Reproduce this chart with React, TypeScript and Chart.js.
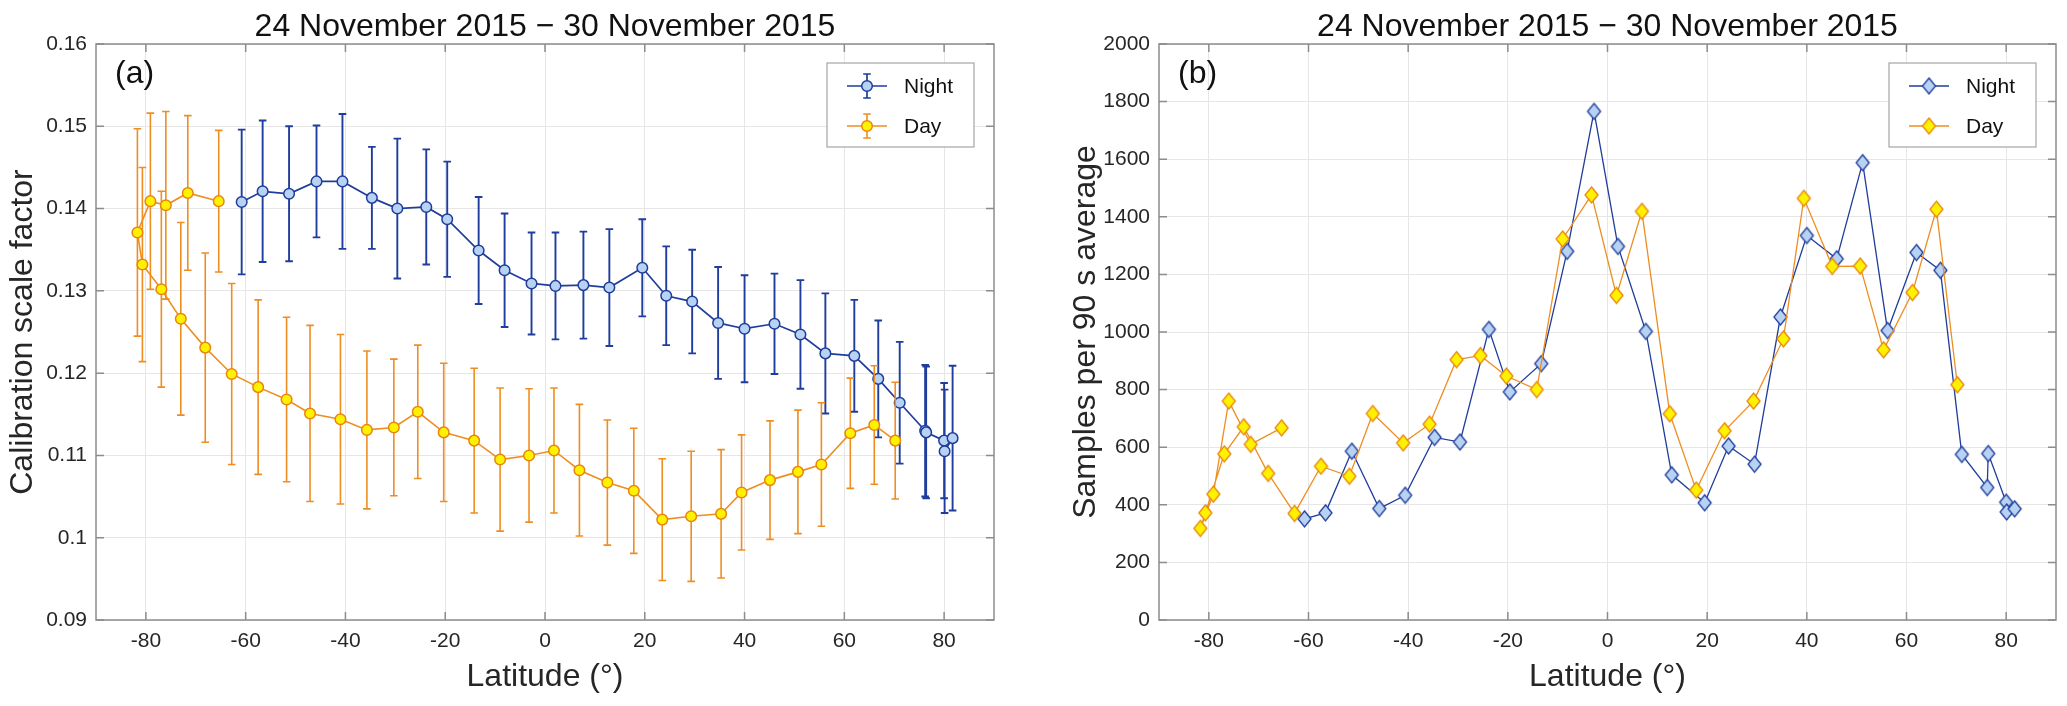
import React, { useEffect, useRef } from 'react';
import { Chart, registerables } from 'chart.js';
Chart.register(...registerables);

// ---------- data ----------
const nightLat = [-60.8, -56.6, -51.3, -45.8, -40.6, -34.7, -29.6, -23.8, -19.6, -13.3, -8.1, -2.7, 2.1, 7.7, 12.9, 19.5, 24.3, 29.5, 34.7, 40.0, 46.0, 51.2, 56.2, 62.0, 66.8, 71.1, 76.2, 76.4, 80.0, 80.1, 81.7];
const nightFactor = [0.1408, 0.1421, 0.1418, 0.1433, 0.1433, 0.1413, 0.1400, 0.1402, 0.1387, 0.1349, 0.1325, 0.1309, 0.1306, 0.1307, 0.1304, 0.1328, 0.1294, 0.1287, 0.1261, 0.1254, 0.1260, 0.1247, 0.1224, 0.1221, 0.1193, 0.1164, 0.1130, 0.1128, 0.1118, 0.1105, 0.1121];
const nightFactorErr = [0.0088, 0.0086, 0.0082, 0.0068, 0.0082, 0.0062, 0.0085, 0.0070, 0.0070, 0.0065, 0.0069, 0.0062, 0.0065, 0.0065, 0.0071, 0.0059, 0.0060, 0.0063, 0.0068, 0.0065, 0.0061, 0.0066, 0.0073, 0.0068, 0.0071, 0.0074, 0.0080, 0.0080, 0.0070, 0.0075, 0.0088];
const nightSamples = [351, 372, 586, 387, 433, 634, 618, 1009, 792, 890, 1280, 1766, 1297, 1002, 504, 407, 604, 541, 1052, 1335, 1254, 1588, 1005, 1276, 1214, 575, 460, 578, 409, 375, 386];

const dayLat = [-65.4, -71.6, -76.0, -79.1, -81.7, -80.7, -76.9, -73.0, -68.1, -62.8, -57.5, -51.8, -47.1, -41.0, -35.7, -30.3, -25.5, -20.3, -14.2, -9.0, -3.2, 1.8, 6.9, 12.5, 17.8, 23.5, 29.3, 35.3, 39.4, 45.1, 50.7, 55.4, 61.2, 66.0, 70.2];
const dayFactor = [0.1409, 0.1419, 0.1404, 0.1409, 0.1371, 0.1332, 0.1302, 0.1266, 0.1231, 0.1199, 0.1183, 0.1168, 0.1151, 0.1144, 0.1131, 0.1134, 0.1153, 0.1128, 0.1118, 0.1095, 0.1100, 0.1106, 0.1082, 0.1067, 0.1057, 0.1022, 0.1026, 0.1029, 0.1055, 0.1070, 0.1080, 0.1089, 0.1127, 0.1137, 0.1118];
const dayFactorErr = [0.0086, 0.0094, 0.0114, 0.0107, 0.0126, 0.0118, 0.0119, 0.0117, 0.0115, 0.0110, 0.0106, 0.0100, 0.0107, 0.0103, 0.0096, 0.0083, 0.0081, 0.0084, 0.0088, 0.0087, 0.0081, 0.0076, 0.0080, 0.0076, 0.0076, 0.0074, 0.0079, 0.0078, 0.0070, 0.0072, 0.0075, 0.0075, 0.0067, 0.0072, 0.0071];
const daySamples = [667, 610, 760, 437, 318, 372, 577, 671, 509, 370, 534, 499, 717, 615, 680, 904, 918, 847, 800, 1323, 1476, 1127, 1419, 716, 451, 657, 760, 976, 1464, 1228, 1229, 938, 1137, 1426, 817];

const latTicks = [-80, -60, -40, -20, 0, 20, 40, 60, 80];
const latTickLabels = ['-80', '-60', '-40', '-20', '0', '20', '40', '60', '80'];
const factorTicks = [0.09, 0.10, 0.11, 0.12, 0.13, 0.14, 0.15, 0.16];
const factorTickLabels = ['0.09', '0.1', '0.11', '0.12', '0.13', '0.14', '0.15', '0.16'];
const sampleTicks = [0, 200, 400, 600, 800, 1000, 1200, 1400, 1600, 1800, 2000];
const sampleTickLabels = ['0', '200', '400', '600', '800', '1000', '1200', '1400', '1600', '1800', '2000'];
const seriesNames = ['Night', 'Day'];
const titleText = '24 November 2015 \u2212 30 November 2015';
const xTitle = 'Latitude (\u00B0)';
const yTitleA = 'Calibration scale factor';
const yTitleB = 'Samples per 90 s average';

// ---------- styles ----------
const FONT = "'Liberation Sans', Arial, Helvetica, sans-serif";
const NIGHT_LINE = '#1f3d9c';
const NIGHT_FACE = '#b7d2f2';
const DAY_LINE = '#ee8e22';
const DAY_EDGE = '#e8860c';
const DAY_FACE = '#fff200';
const AXIS_COLOR = '#8c8c8c';
const GRID_COLOR = '#e6e6e6';
const TEXT_COLOR = '#262626';

function makeDiamond(fill: string, stroke: string, w: number, h: number, lw: number) {
  const c = document.createElement('canvas');
  const pad = Math.ceil(lw) + 1;
  c.width = w + pad * 2;
  c.height = h + pad * 2;
  const g = c.getContext('2d')!;
  const cx = c.width / 2, cy = c.height / 2;
  g.beginPath();
  g.moveTo(cx, cy - h / 2);
  g.lineTo(cx + w / 2, cy);
  g.lineTo(cx, cy + h / 2);
  g.lineTo(cx - w / 2, cy);
  g.closePath();
  g.fillStyle = fill;
  g.fill();
  g.lineWidth = lw;
  g.strokeStyle = stroke;
  g.stroke();
  return c;
}

type LegendEntry = {
  label: string;
  line: string;
  lineWidth: number;
  errorbar: boolean;
  drawMarker: (ctx: CanvasRenderingContext2D, x: number, y: number) => void;
};

function panelPlugin(panelLabel: string, legend: LegendEntry[]) {
  return {
    id: 'panelDeco',
    beforeDatasetDraw(chart: any, args: any) {
      const ds: any = chart.data.datasets[args.index];
      if (!ds.errors) return;
      const meta = chart.getDatasetMeta(args.index);
      const ys = chart.scales.y;
      const ctx: CanvasRenderingContext2D = chart.ctx;
      const cap = 3.8;
      ctx.save();
      ctx.strokeStyle = ds.errorColor || ds.borderColor;
      ctx.lineWidth = ds.errorWidth || 1.5;
      ctx.beginPath();
      meta.data.forEach((pt: any, i: number) => {
        const v = ds.data[i].y;
        const e = ds.errors[i];
        const x = pt.x;
        const y1 = ys.getPixelForValue(v + e);
        const y2 = ys.getPixelForValue(v - e);
        ctx.moveTo(x, y1); ctx.lineTo(x, y2);
        ctx.moveTo(x - cap, y1); ctx.lineTo(x + cap, y1);
        ctx.moveTo(x - cap, y2); ctx.lineTo(x + cap, y2);
      });
      ctx.stroke();
      ctx.restore();
    },
    afterDraw(chart: any) {
      const ctx: CanvasRenderingContext2D = chart.ctx;
      const a = chart.chartArea;
      const xs = chart.scales.x;
      const ys = chart.scales.y;
      ctx.save();
      // frame
      ctx.strokeStyle = AXIS_COLOR;
      ctx.lineWidth = 1.5;
      ctx.strokeRect(a.left, a.top, a.right - a.left, a.bottom - a.top);
      // inward ticks
      const tl = 8;
      ctx.beginPath();
      xs.ticks.forEach((t: any) => {
        const px = xs.getPixelForValue(t.value);
        ctx.moveTo(px, a.bottom); ctx.lineTo(px, a.bottom - tl);
        ctx.moveTo(px, a.top); ctx.lineTo(px, a.top + tl);
      });
      ys.ticks.forEach((t: any) => {
        const py = ys.getPixelForValue(t.value);
        ctx.moveTo(a.left, py); ctx.lineTo(a.left + tl, py);
        ctx.moveTo(a.right, py); ctx.lineTo(a.right - tl, py);
      });
      ctx.stroke();

      // title
      ctx.fillStyle = '#111';
      ctx.font = `32px ${FONT}`;
      ctx.textAlign = 'center';
      ctx.textBaseline = 'alphabetic';
      ctx.fillText(titleText, (a.left + a.right) / 2, 36);

      // panel label
      ctx.font = `32px ${FONT}`;
      ctx.textAlign = 'left';
      ctx.textBaseline = 'alphabetic';
      ctx.fillText(panelLabel, a.left + 19, a.top + 39);

      // legend
      const lw = 147, lh = 84;
      const lx = a.right - 20 - lw;
      const ly = a.top + 19;
      ctx.fillStyle = '#ffffff';
      ctx.fillRect(lx, ly, lw, lh);
      ctx.strokeStyle = '#a6a6a6';
      ctx.lineWidth = 1.2;
      ctx.strokeRect(lx, ly, lw, lh);
      legend.forEach((e, i) => {
        const cy = ly + 23 + i * 40;
        ctx.strokeStyle = e.line;
        ctx.lineWidth = e.lineWidth;
        ctx.beginPath();
        ctx.moveTo(lx + 20, cy); ctx.lineTo(lx + 60, cy);
        if (e.errorbar) {
          const mx = lx + 40;
          ctx.moveTo(mx, cy - 12); ctx.lineTo(mx, cy + 12);
          ctx.moveTo(mx - 3.8, cy - 12); ctx.lineTo(mx + 3.8, cy - 12);
          ctx.moveTo(mx - 3.8, cy + 12); ctx.lineTo(mx + 3.8, cy + 12);
        }
        ctx.stroke();
        e.drawMarker(ctx, lx + 40, cy);
        ctx.fillStyle = '#111';
        ctx.font = `21px ${FONT}`;
        ctx.textAlign = 'left';
        ctx.textBaseline = 'middle';
        ctx.fillText(e.label, lx + 77, cy + 1);
      });
      ctx.restore();
    },
  };
}

function axisOptions(yMin: number, yMax: number, yTicks: number[], yLabels: string[], yTitle: string) {
  return {
    x: {
      type: 'linear',
      min: -90,
      max: 90,
      afterBuildTicks: (s: any) => { s.ticks = latTicks.map((v) => ({ value: v })); },
      afterFit: (s: any) => { s.height = 86; },
      ticks: {
        callback: (_v: any, i: number) => latTickLabels[i],
        color: TEXT_COLOR,
        font: { family: FONT, size: 21 },
        padding: 9,
        maxRotation: 0,
        autoSkip: false,
      },
      grid: { color: GRID_COLOR, lineWidth: 1, drawTicks: false },
      border: { display: false },
      title: {
        display: true,
        text: xTitle,
        color: TEXT_COLOR,
        font: { family: FONT, size: 32 },
        padding: { top: 0, bottom: 10 },
      },
    },
    y: {
      type: 'linear',
      min: yMin,
      max: yMax,
      afterBuildTicks: (s: any) => { s.ticks = yTicks.map((v) => ({ value: v })); },
      afterFit: (s: any) => { s.width = 96; },
      ticks: {
        callback: (_v: any, i: number) => yLabels[i],
        color: TEXT_COLOR,
        font: { family: FONT, size: 21 },
        padding: 9,
        autoSkip: false,
      },
      grid: { color: GRID_COLOR, lineWidth: 1, drawTicks: false },
      border: { display: false },
      title: {
        display: true,
        text: yTitle,
        color: TEXT_COLOR,
        font: { family: FONT, size: 32 },
        padding: { top: 4, bottom: 0 },
      },
    },
  };
}

function drawCircle(face: string, edge: string) {
  return (ctx: CanvasRenderingContext2D, x: number, y: number) => {
    ctx.beginPath();
    ctx.arc(x, y, 5.3, 0, Math.PI * 2);
    ctx.fillStyle = face;
    ctx.fill();
    ctx.lineWidth = 1.5;
    ctx.strokeStyle = edge;
    ctx.stroke();
  };
}

export default function App() {
  const refA = useRef<HTMLCanvasElement>(null);
  const refB = useRef<HTMLCanvasElement>(null);

  useEffect(() => {
    document.body.style.margin = '0';
    const nightDiamond = makeDiamond(NIGHT_FACE, NIGHT_LINE, 13, 16, 1.3);
    const dayDiamond = makeDiamond(DAY_FACE, DAY_EDGE, 13, 16, 1.3);

    const chartA = new Chart(refA.current!, {
      type: 'line',
      data: {
        datasets: [
          {
            label: seriesNames[0],
            data: nightLat.map((x, i) => ({ x, y: nightFactor[i] })),
            errors: nightFactorErr,
            errorWidth: 1.9,
            borderColor: NIGHT_LINE,
            borderWidth: 1.7,
            backgroundColor: NIGHT_FACE,
            pointBackgroundColor: NIGHT_FACE,
            pointBorderColor: NIGHT_LINE,
            pointBorderWidth: 1.5,
            pointRadius: 5.3,
            pointStyle: 'circle',
            tension: 0,
            order: 1,
          } as any,
          {
            label: seriesNames[1],
            data: dayLat.map((x, i) => ({ x, y: dayFactor[i] })),
            errors: dayFactorErr,
            errorWidth: 1.6,
            errorColor: DAY_LINE,
            borderColor: DAY_LINE,
            borderWidth: 1.6,
            backgroundColor: DAY_FACE,
            pointBackgroundColor: DAY_FACE,
            pointBorderColor: DAY_EDGE,
            pointBorderWidth: 1.5,
            pointRadius: 5.3,
            pointStyle: 'circle',
            tension: 0,
            order: 0,
          } as any,
        ],
      },
      options: {
        responsive: false,
        animation: false,
        devicePixelRatio: 1,
        layout: { padding: { left: 0, right: 1063 - 994, top: 44, bottom: 0 } },
        plugins: { legend: { display: false }, title: { display: false }, tooltip: { enabled: false } },
        scales: axisOptions(0.09, 0.16, factorTicks, factorTickLabels, yTitleA) as any,
      },
      plugins: [
        panelPlugin('(a)', [
          { label: seriesNames[0], line: NIGHT_LINE, lineWidth: 1.7, errorbar: true, drawMarker: drawCircle(NIGHT_FACE, NIGHT_LINE) },
          { label: seriesNames[1], line: DAY_LINE, lineWidth: 1.6, errorbar: true, drawMarker: drawCircle(DAY_FACE, DAY_EDGE) },
        ]) as any,
      ],
    });

    const chartB = new Chart(refB.current!, {
      type: 'line',
      data: {
        datasets: [
          {
            label: seriesNames[0],
            data: nightLat.map((x, i) => ({ x, y: nightSamples[i] })),
            borderColor: NIGHT_LINE,
            borderWidth: 1.3,
            pointStyle: nightDiamond,
            pointRadius: 8,
            tension: 0,
            order: 1,
          } as any,
          {
            label: seriesNames[1],
            data: dayLat.map((x, i) => ({ x, y: daySamples[i] })),
            borderColor: DAY_LINE,
            borderWidth: 1.3,
            pointStyle: dayDiamond,
            pointRadius: 8,
            tension: 0,
            order: 0,
          } as any,
        ],
      },
      options: {
        responsive: false,
        animation: false,
        devicePixelRatio: 1,
        layout: { padding: { left: 0, right: 1004 - 96 - 897, top: 44, bottom: 0 } },
        plugins: { legend: { display: false }, title: { display: false }, tooltip: { enabled: false } },
        scales: axisOptions(0, 2000, sampleTicks, sampleTickLabels, yTitleB) as any,
      },
      plugins: [
        panelPlugin('(b)', [
          {
            label: seriesNames[0], line: NIGHT_LINE, lineWidth: 1.3, errorbar: false,
            drawMarker: (ctx, x, y) => ctx.drawImage(nightDiamond, x - nightDiamond.width / 2, y - nightDiamond.height / 2),
          },
          {
            label: seriesNames[1], line: DAY_LINE, lineWidth: 1.3, errorbar: false,
            drawMarker: (ctx, x, y) => ctx.drawImage(dayDiamond, x - dayDiamond.width / 2, y - dayDiamond.height / 2),
          },
        ]) as any,
      ],
    });

    return () => {
      chartA.destroy();
      chartB.destroy();
    };
  }, []);

  return (
    <div style={{ position: 'absolute', left: 0, top: 0, width: 2067, height: 706, background: '#ffffff', overflow: 'hidden' }}>
      <canvas ref={refA} width={1063} height={706} style={{ position: 'absolute', left: 0, top: 0, width: 1063, height: 706 }} />
      <canvas ref={refB} width={1004} height={706} style={{ position: 'absolute', left: 1063, top: 0, width: 1004, height: 706 }} />
    </div>
  );
}
